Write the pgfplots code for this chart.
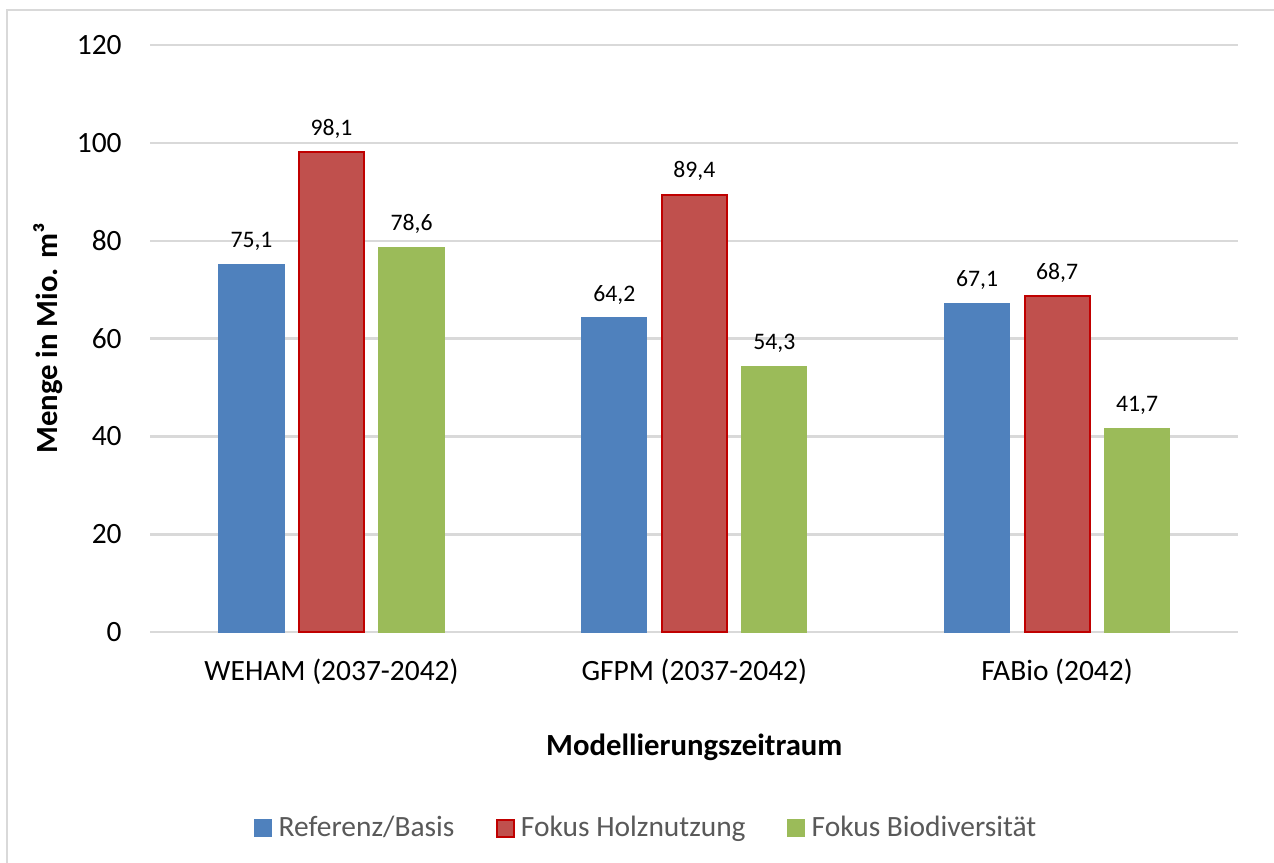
\documentclass[border=0pt]{standalone}
\usepackage{fontspec}
\setmainfont{Carlito}
\usepackage{pgfplots}
\pgfplotsset{compat=1.18}

\definecolor{cblue}{HTML}{4F81BD}
\definecolor{cred}{HTML}{C0504D}
\definecolor{credline}{HTML}{C00000}
\definecolor{cgreen}{HTML}{9BBB59}
\definecolor{cgrid}{HTML}{D9D9D9}
\definecolor{ctext}{HTML}{595959}

\begin{document}
\begin{tikzpicture}
\path[use as bounding box] (0,0) rectangle (398pt,269.4pt);
\draw[cgrid,line width=0.7pt] (2.2pt,-2pt) -- (2.2pt,266.3pt) -- (400pt,266.3pt);
\begin{axis}[
 at={(46.9pt,71.9pt)}, anchor=south west,
 scale only axis, width=340pt, height=183.4pt,
 ybar=4.7pt, bar width=20.3pt,
 xmin=-0.5, xmax=2.5, ymin=0, ymax=120,
 xtick=data, xticklabels={WEHAM (2037-2042),GFPM (2037-2042),FABio (2042)},
 ytick={0,20,...,120},
 major tick length=0,
 axis line style={draw=none},
 ymajorgrids=true, grid style={cgrid,line width=0.8pt},
 /pgf/number format/assume math mode=true,
 ticklabel style={font=\fontsize{9.2}{11}\selectfont, text=black},
 yticklabel style={anchor=east, inner sep=0pt, xshift=-8.7pt},
 xticklabel style={anchor=center, inner sep=0pt, yshift=-12.3pt},
 xlabel={\textbf{Modellierungszeitraum}},
 ylabel={\textbf{Menge in Mio. m³}},
 xlabel style={at={(axis description cs:0.5,-0.196)}, anchor=center, font=\fontsize{9.6}{11}\selectfont},
 ylabel style={at={(axis description cs:-0.0938,0.5)}, anchor=center, rotate=0, font=\fontsize{9.6}{11}\selectfont},
 nodes near coords={\pgfmathprintnumber[fixed,fixed zerofill,precision=1,use comma,assume math mode=true]{\pgfplotspointmeta}},
 every node near coord/.append style={font=\fontsize{7.4}{9}\selectfont, text=black, anchor=base, inner sep=0pt, yshift=5.3pt},
 legend style={at={(axis description cs:0.458,-0.334)}, anchor=center, draw=none,
   font=\fontsize{9.2}{11}\selectfont, text=ctext, legend columns=-1,
   /tikz/every odd column/.append style={column sep=0pt},
   /tikz/every even column/.append style={column sep=11pt}},
 legend image code/.code={\draw[#1] (0pt,-2.6pt) rectangle (5.2pt,2.6pt);},
]
\addplot[fill=cblue, draw=cblue] coordinates {(0,75.1) (1,64.2) (2,67.1)};
\addplot[fill=cred, draw=credline, line width=0.6pt] coordinates {(0,98.1) (1,89.4) (2,68.7)};
\addplot[fill=cgreen, draw=cgreen] coordinates {(0,78.6) (1,54.3) (2,41.7)};
\legend{Referenz/Basis,Fokus Holznutzung,Fokus Biodiversität}
\end{axis}
\end{tikzpicture}
\end{document}
